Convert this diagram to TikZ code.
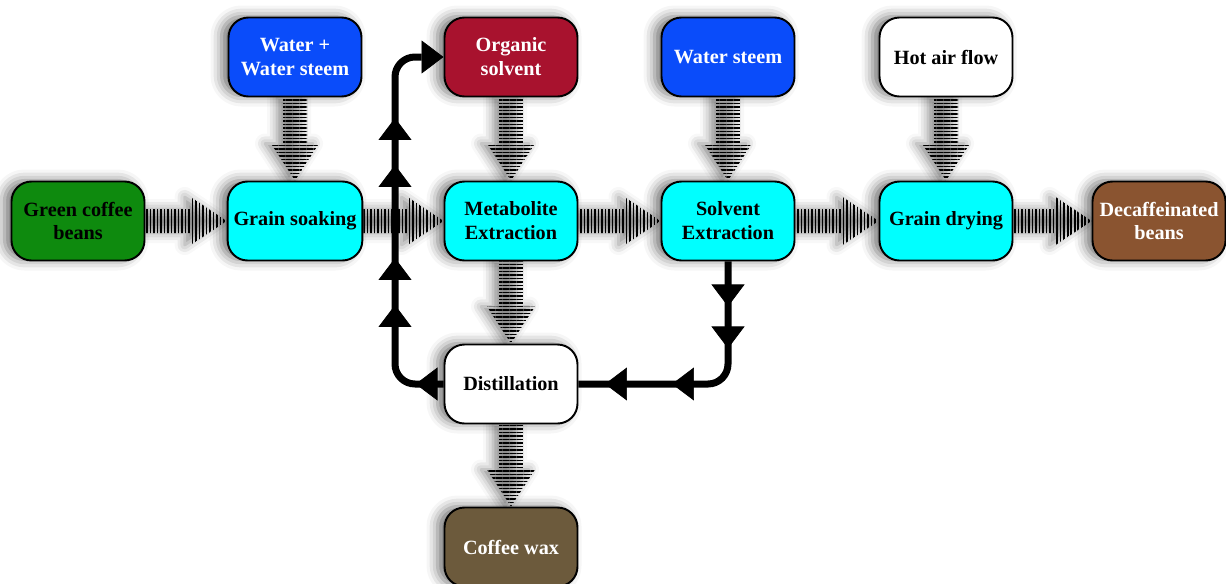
\documentclass[tikz,border=0pt]{standalone}
\usepackage{fontspec}
\setmainfont{Liberation Serif}
\usepackage{tikz}
\usetikzlibrary{arrows.meta,calc,positioning,patterns.meta,decorations.markings,shadows.blur,backgrounds}
\definecolor{beangreen}{HTML}{0E8A0E}
\definecolor{steamblue}{HTML}{0A4CFA}
\definecolor{solvred}{HTML}{A8122E}
\definecolor{procyan}{HTML}{00FFFF}
\definecolor{decafbrown}{HTML}{8A5430}
\definecolor{waxbrown}{HTML}{6C5A3C}

\newcommand{\hflow}[2]{%
\path[flow,pattern={Lines[angle=90,distance=0.07cm,line width=0.035cm]}]
 let \p1=(#1.east), \p2=(#2.west) in
 (\x1,\y1+0.24cm) -- (\x2-0.72cm,\y1+0.24cm) -- (\x2-0.72cm,\y1+0.48cm)
 -- (\x2,\y1) -- (\x2-0.72cm,\y1-0.48cm) -- (\x2-0.72cm,\y1-0.24cm)
 -- (\x1,\y1-0.24cm) -- cycle;}
\newcommand{\vflow}[2]{%
\path[flow,pattern={Lines[angle=0,distance=0.07cm,line width=0.035cm]}]
 let \p1=(#1.south), \p2=(#2.north) in
 (\x1-0.24cm,\y1) -- (\x1-0.24cm,\y2+0.74cm) -- (\x1-0.48cm,\y2+0.74cm)
 -- (\x1,\y2) -- (\x1+0.48cm,\y2+0.74cm) -- (\x1+0.24cm,\y2+0.74cm)
 -- (\x1+0.24cm,\y1) -- cycle;}

\begin{document}
\begin{tikzpicture}
[box/.style={draw,line width=1.1pt,rounded corners=0.4cm,
 minimum width=2.66cm,minimum height=1.58cm,align=center,
 font=\fontsize{11.5}{13.6}\selectfont\bfseries,
 blur shadow={shadow xshift=-0.14cm,shadow yshift=0.02cm,shadow blur radius=0.22cm,shadow opacity=55}},
flow/.style={blur shadow={shadow xshift=-0.12cm,shadow yshift=0cm,shadow blur radius=0.2cm,shadow opacity=45}},
loop/.style={line width=0.14cm,rounded corners=0.4cm},
loophead/.tip={Triangle[width=0.66cm,length=0.44cm,line width=0.4pt]}]
\useasboundingbox (0,0) rectangle (24.52,-11.66);

\node (green) at (1.56,-4.42) [box,fill=beangreen] {Green coffee\\beans};
\node (soak) at (5.90,-4.42) [box,fill=procyan] {Grain soaking};
\node (water) at (5.90,-1.14) [box,fill=steamblue,text=white] {Water +\\Water steem};
\node (organic) at (10.22,-1.14) [box,fill=solvred,text=white] {Organic\\solvent};
\node (metab) at (10.22,-4.42) [box,fill=procyan] {Metabolite\\Extraction};
\node (steam) at (14.56,-1.14) [box,fill=steamblue,text=white] {Water steem};
\node (solv) at (14.56,-4.42) [box,fill=procyan] {Solvent\\Extraction};
\node (hot) at (18.92,-1.14) [box,fill=white] {Hot air flow};
\node (dry) at (18.92,-4.42) [box,fill=procyan] {Grain drying};
\node (decaf) at (23.18,-4.42) [box,fill=decafbrown,text=white] {Decaffeinated\\beans};
\node (dist) at (10.22,-7.68) [box,fill=white] {Distillation};
\node (wax) at (10.22,-10.94) [box,fill=waxbrown,text=white] {Coffee wax};

\begin{scope}[on background layer]
\hflow{green}{soak}
\hflow{soak}{metab}
\hflow{metab}{solv}
\hflow{solv}{dry}
\hflow{dry}{decaf}
\vflow{water}{soak}
\vflow{organic}{metab}
\vflow{steam}{solv}
\vflow{hot}{dry}
\vflow{metab}{dist}
\vflow{dist}{wax}
\end{scope}

\coordinate (lowleft) at (7.9,-7.68);
\coordinate (upleft) at (7.9,-1.14);
\coordinate (lowright) at (solv.south |- dist.east);

\draw[loop,-loophead,
 postaction={decorate,decoration={markings,
 mark=at position 0.56cm with {\arrow{loophead}},
 mark=at position 2.38cm with {\arrow{loophead}},
 mark=at position 3.32cm with {\arrow{loophead}},
 mark=at position 5.18cm with {\arrow{loophead}},
 mark=at position 6.12cm with {\arrow{loophead}}}}]
 (dist.west) -- (lowleft) -- (upleft) -- (organic.west);
\draw[loop,
 postaction={decorate,decoration={markings,
 mark=at position 0.9cm with {\arrow{loophead}},
 mark=at position 1.74cm with {\arrow{loophead}},
 mark=at position 3.4cm with {\arrow{loophead}},
 mark=at position 4.74cm with {\arrow{loophead}}}}]
 (solv.south) -- (lowright) -- (dist.east);
\end{tikzpicture}
\end{document}
